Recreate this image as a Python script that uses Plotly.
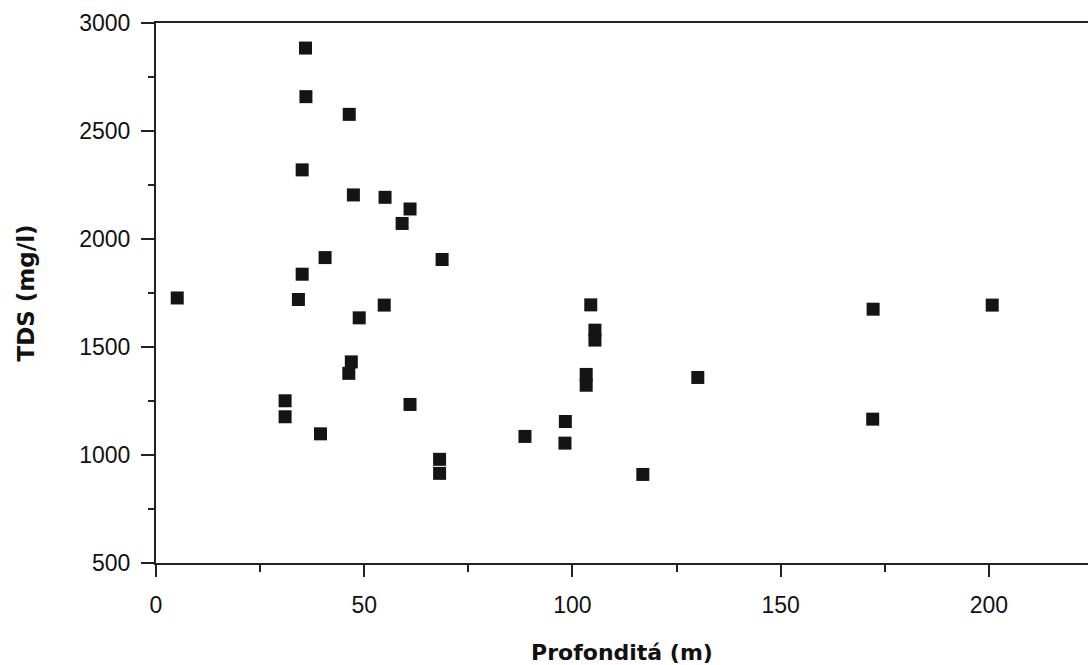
import plotly.graph_objects as go

# Depth (m) and TDS (mg/l)
profondita = [35.9, 36.0, 46.4, 35.1, 47.4, 55.0, 61.0, 59.1, 40.6, 68.7,
              35.1, 5.1, 34.2, 54.8, 48.8, 46.9, 46.3, 31.0, 31.0, 61.0,
              39.5, 68.1, 68.1,
              104.4, 105.4, 105.4, 103.3, 103.3, 130.1, 98.3, 88.6, 98.2,
              116.9, 172.2, 200.8, 172.1]
tds = [2884, 2659, 2577, 2320, 2204, 2193, 2139, 2072, 1914, 1905,
       1837, 1727, 1720, 1694, 1635, 1431, 1378, 1251, 1177, 1234,
       1098, 980, 915,
       1695, 1578, 1532, 1373, 1323, 1359, 1155, 1086, 1055,
       910, 1675, 1694, 1166]

x_ticks = [0, 50, 100, 150, 200]
y_ticks = [500, 1000, 1500, 2000, 2500, 3000]

fig = go.Figure()
fig.add_trace(go.Scatter(
    x=profondita, y=tds, mode="markers",
    marker=dict(symbol="square", size=13, color="#141414", line=dict(width=0)),
    showlegend=False, cliponaxis=False,
))

tick_font = dict(family="Liberation Sans, Arial, sans-serif", size=23, color="#111")
title_font = dict(family="DejaVu Sans, sans-serif", size=22, color="#111")

fig.update_layout(
    width=1088, height=665,
    margin=dict(l=156, r=0, t=23, b=102),
    paper_bgcolor="white", plot_bgcolor="white",
    xaxis=dict(
        range=[0, 223.8], tickvals=x_ticks, ticktext=[str(v) for v in x_ticks],
        showgrid=False, zeroline=False,
        showline=True, linecolor="#222", linewidth=2, mirror=True,
        ticks="outside", ticklen=12, tickwidth=1.5, tickcolor="#222",
        minor=dict(ticks="outside", ticklen=7, dtick=25, tick0=0, tickwidth=1.5, tickcolor="#222"),
        tickfont=tick_font, ticklabelstandoff=8,
        title=dict(text="<b>Profonditá (m)</b>", font=title_font, standoff=30),
    ),
    yaxis=dict(
        range=[500, 3000], tickvals=y_ticks, ticktext=[str(v) for v in y_ticks],
        showgrid=False, zeroline=False,
        showline=True, linecolor="#222", linewidth=2, mirror=False,
        ticks="outside", ticklen=13, tickwidth=1.5, tickcolor="#222",
        minor=dict(ticks="outside", ticklen=6, dtick=250, tick0=500, tickwidth=1.5, tickcolor="#222"),
        tickfont=tick_font, ticklabelstandoff=6,
        title=dict(text="<b>TDS (mg/l)</b>", font=dict(family="DejaVu Sans, sans-serif", size=23, color="#111"), standoff=38),
    ),
)

fig.write_html("out.html")
